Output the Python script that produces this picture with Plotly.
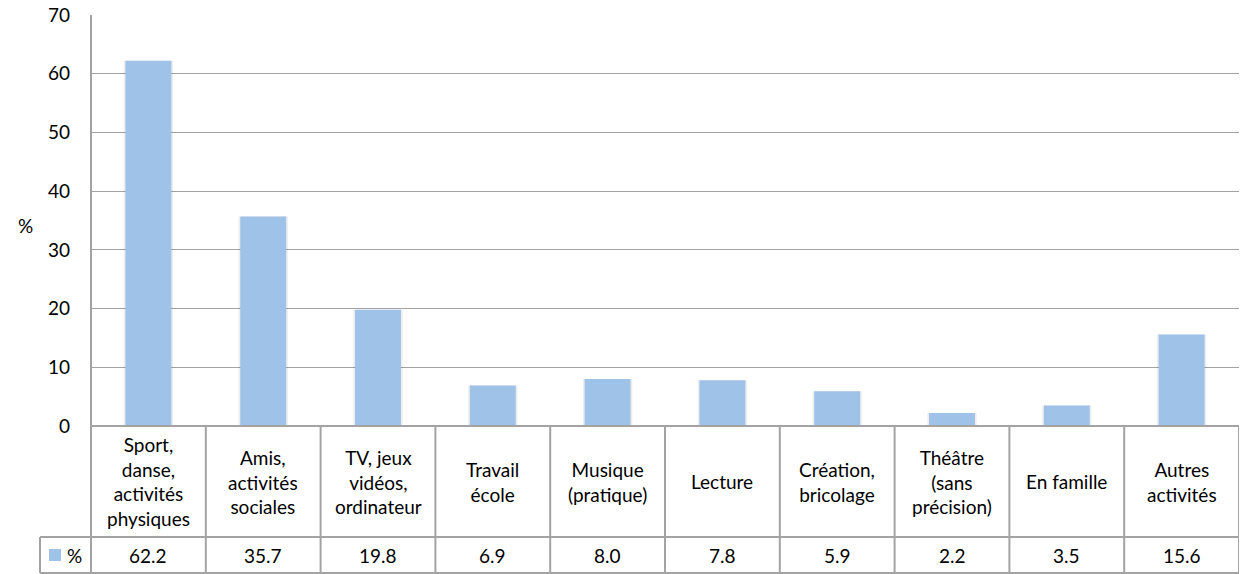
import plotly.graph_objects as go

categories = ["Sport,<br>danse,<br>activités<br>physiques", "Amis,<br>activités<br>sociales",
              "TV, jeux<br>vidéos,<br>ordinateur", "Travail<br>école", "Musique<br>(pratique)",
              "Lecture", "Création,<br>bricolage", "Théâtre<br>(sans<br>précision)", "En famille",
              "Autres<br>activités"]
values = [62.2, 35.7, 19.8, 6.9, 8.0, 7.8, 5.9, 2.2, 3.5, 15.6]
series_name = "%"
y_ticks = [0, 10, 20, 30, 40, 50, 60, 70]

W, H = 1242, 574
X0, X1 = 91, 1239
Y_TOP, Y_BASE, Y_ROW, Y_BOT = 15, 426, 537, 573
LEG_X = 40

def px(x):
    return x / W

def py(y):
    return 1 - y / H

FONT = "Lato"
FS = 19
GRID = "#A3A3A3"
BAR = "#9FC2E9"

n = len(categories)
xs = list(range(n))

fig = go.Figure()
# soft shadow behind the bars
fig.add_trace(go.Bar(x=xs, y=values, marker=dict(color="rgba(0,0,0,0.07)", line=dict(width=0)),
                     width=0.43, showlegend=False, hoverinfo="skip"))
fig.add_trace(go.Bar(x=xs, y=values, marker=dict(color=BAR, line=dict(width=0)),
                     width=0.4, name=series_name, showlegend=False))

shapes = []
line = dict(color=GRID, width=2)
shapes.append(dict(type="line", xref="paper", yref="paper", x0=px(X0), x1=px(X1),
                   y0=py(Y_BASE), y1=py(Y_BASE), line=line))
for yy in (Y_ROW, Y_BOT):
    shapes.append(dict(type="line", xref="paper", yref="paper", x0=px(LEG_X), x1=px(X1),
                       y0=py(yy), y1=py(yy), line=line))
shapes.append(dict(type="line", xref="paper", yref="paper", x0=px(X0), x1=px(X0),
                   y0=py(Y_TOP), y1=py(Y_BOT), line=line))
shapes.append(dict(type="line", xref="paper", yref="paper", x0=px(LEG_X), x1=px(LEG_X),
                   y0=py(Y_ROW), y1=py(Y_BOT), line=line))
for k in range(1, n + 1):
    shapes.append(dict(type="line", xref="x", yref="paper", x0=k - 0.5, x1=k - 0.5,
                       y0=py(Y_BASE), y1=py(Y_BOT), line=line))
shapes.append(dict(type="rect", xref="paper", yref="paper", x0=px(49), x1=px(61),
                   y0=py(561), y1=py(549), fillcolor=BAR, line=dict(width=0)))

tfont = dict(family=FONT, size=FS, color="#000000")
annotations = []
for i, (c, v) in enumerate(zip(categories, values)):
    annotations.append(dict(x=i, y=py((Y_BASE + Y_ROW) / 2), xref="x", yref="paper",
                            text=c, showarrow=False, align="center", yanchor="middle",
                            font=tfont))
    annotations.append(dict(x=i, y=py((Y_ROW + Y_BOT) / 2), xref="x", yref="paper",
                            text=f"{v:.1f}", showarrow=False, yanchor="middle", font=tfont))
annotations.append(dict(x=px(65), y=py((Y_ROW + Y_BOT) / 2), xref="paper", yref="paper",
                        text=series_name, showarrow=False, xanchor="left", yanchor="middle",
                        font=tfont))
annotations.append(dict(x=px(16), y=py(225), xref="paper", yref="paper",
                        text="%", showarrow=False, yanchor="middle", font=tfont))

fig.update_layout(
    template="none",
    width=W, height=H,
    margin=dict(l=0, r=0, t=0, b=0, pad=0, autoexpand=False),
    paper_bgcolor="white", plot_bgcolor="white",
    barmode="overlay",
    shapes=shapes, annotations=annotations,
    xaxis=dict(domain=[px(X0), px(X1)], range=[-0.5, n - 0.5], showticklabels=False,
               showgrid=False, zeroline=False, showline=False, ticks="",
               automargin=False, fixedrange=True),
    yaxis=dict(domain=[py(Y_BASE), py(Y_TOP)], range=[0, 70], tickvals=y_ticks,
               showgrid=True, gridcolor=GRID, gridwidth=1.3, zeroline=False,
               showline=False, ticks="", ticklabelstandoff=20, automargin=False,
               tickfont=tfont, fixedrange=True),
    showlegend=False,
)

fig.write_html("out.html", config={"displayModeBar": False},
               post_script="document.body.style.margin='0';document.body.style.overflow='hidden';")
